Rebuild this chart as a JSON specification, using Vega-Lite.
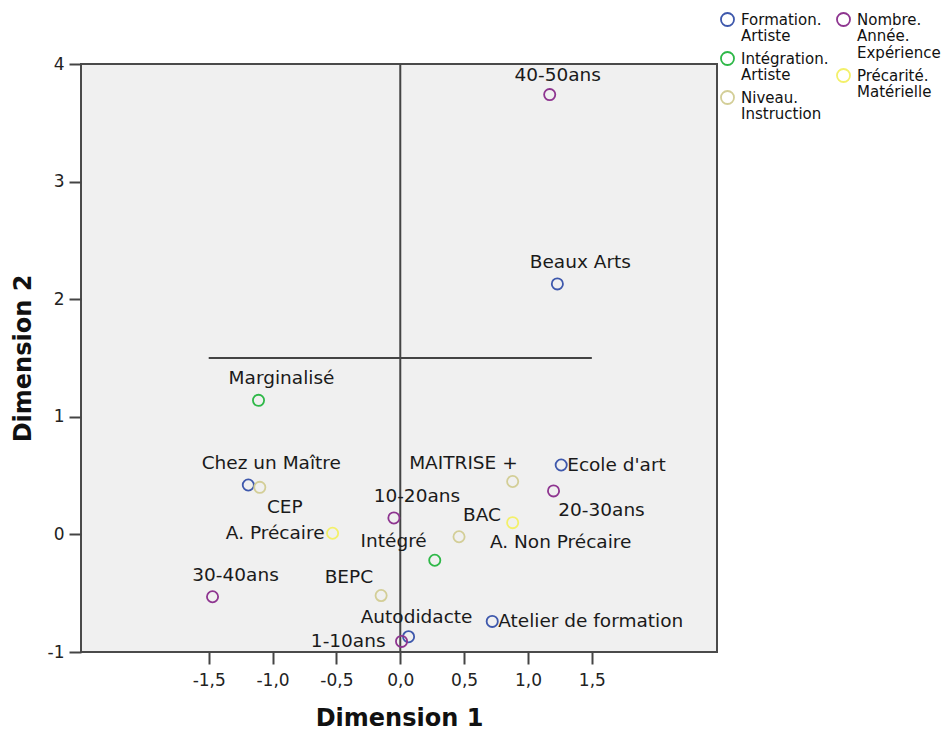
{
  "$schema": "https://vega.github.io/schema/vega-lite/v6.json",
  "autosize": {"type": "none"},
  "width": 636,
  "height": 588,
  "padding": {"left": 81, "top": 64, "right": 234, "bottom": 81},
  "background": "white",
  "config": {
    "view": {"fill": "#F0F0F0", "stroke": "#4a4a4a", "strokeWidth": 2},
    "style": {"guide-label": {"lineHeight": 16.5}},
    "axis": {
      "grid": false,
      "domain": false,
      "tickColor": "#444444",
      "tickWidth": 2,
      "labelFont": "DejaVu Sans",
      "labelFontSize": 17,
      "labelColor": "#222222",
      "titleFont": "DejaVu Sans",
      "titleFontSize": 24,
      "titleFontWeight": "bold",
      "titleColor": "#111111"
    },
    "legend": {
      "labelFont": "DejaVu Sans",
      "labelFontSize": 15,
      "labelColor": "#111111",
      "labelLimit": 0
    }
  },
  "datasets": {
    "pts": [
      {"label": "40-50ans", "group": "Nombre.Année.Expérience", "d1": 1.17, "d2": 3.74},
      {"label": "Beaux Arts", "group": "Formation.Artiste", "d1": 1.23, "d2": 2.13},
      {"label": "Marginalisé", "group": "Intégration.Artiste", "d1": -1.11, "d2": 1.14},
      {"label": "Chez un Maître", "group": "Formation.Artiste", "d1": -1.19, "d2": 0.42},
      {"label": "CEP", "group": "Niveau.Instruction", "d1": -1.10, "d2": 0.40},
      {"label": "Ecole d'art", "group": "Formation.Artiste", "d1": 1.26, "d2": 0.59},
      {"label": "MAITRISE +", "group": "Niveau.Instruction", "d1": 0.88, "d2": 0.45},
      {"label": "20-30ans", "group": "Nombre.Année.Expérience", "d1": 1.20, "d2": 0.37},
      {"label": "10-20ans", "group": "Nombre.Année.Expérience", "d1": -0.05, "d2": 0.14},
      {"label": "BAC", "group": "Niveau.Instruction", "d1": 0.46, "d2": -0.02},
      {"label": "A. Non Précaire", "group": "Précarité.Matérielle", "d1": 0.88, "d2": 0.10},
      {"label": "A. Précaire", "group": "Précarité.Matérielle", "d1": -0.53, "d2": 0.01},
      {"label": "Intégré", "group": "Intégration.Artiste", "d1": 0.27, "d2": -0.22},
      {"label": "30-40ans", "group": "Nombre.Année.Expérience", "d1": -1.47, "d2": -0.53},
      {"label": "BEPC", "group": "Niveau.Instruction", "d1": -0.15, "d2": -0.52},
      {"label": "Autodidacte", "group": "Formation.Artiste", "d1": 0.065, "d2": -0.87},
      {"label": "1-10ans", "group": "Nombre.Année.Expérience", "d1": 0.01, "d2": -0.91},
      {"label": "Atelier de formation", "group": "Formation.Artiste", "d1": 0.72, "d2": -0.74}
    ]
  },
  "layer": [
    {
      "data": {"values": [{"d1": 0, "d2": -1, "d2e": 4}]},
      "mark": {"type": "rule", "color": "#444444", "strokeWidth": 2},
      "encoding": {
        "x": {"field": "d1", "type": "quantitative", "title": "Dimension 1", "scale": {"domain": [-2.5, 2.48], "nice": false, "zero": false}},
        "y": {"field": "d2", "type": "quantitative", "title": "Dimension 2", "scale": {"domain": [-1, 4], "nice": false, "zero": false}},
        "y2": {"field": "d2e"}
      }
    },
    {
      "data": {"values": [{"d1": -1.5, "d1e": 1.5, "d2": 1.5}]},
      "mark": {"type": "rule", "color": "#444444", "strokeWidth": 2},
      "encoding": {
        "x": {"field": "d1", "type": "quantitative", "title": "Dimension 1", "scale": {"domain": [-2.5, 2.48], "nice": false, "zero": false}},
        "x2": {"field": "d1e"},
        "y": {"field": "d2", "type": "quantitative", "title": "Dimension 2", "scale": {"domain": [-1, 4], "nice": false, "zero": false}}
      }
    },
    {
      "data": {"name": "pts"},
      "transform": [{"filter": {"field": "group", "oneOf": ["Formation.Artiste", "Intégration.Artiste", "Niveau.Instruction"]}}],
      "mark": {"type": "point", "shape": "circle", "filled": false, "size": 125, "strokeWidth": 1.8, "opacity": 1},
      "encoding": {
        "x": {
          "field": "d1", "type": "quantitative", "title": "Dimension 1",
          "scale": {"domain": [-2.5, 2.48], "nice": false, "zero": false},
          "axis": {
            "values": [-1.5, -1, -0.5, 0, 0.5, 1, 1.5],
            "labelExpr": "replace((datum.value < 0 ? '-' : '') + format(abs(datum.value), '.1f'), '.', ',')",
            "tickSize": 12,
            "labelPadding": 8,
            "titlePadding": 18
          }
        },
        "y": {
          "field": "d2", "type": "quantitative", "title": "Dimension 2",
          "scale": {"domain": [-1, 4], "nice": false, "zero": false},
          "axis": {
            "values": [-1, 0, 1, 2, 3, 4],
            "labelExpr": "(datum.value < 0 ? '-' : '') + format(abs(datum.value), 'd')",
            "tickSize": 12,
            "labelPadding": 5,
            "titlePadding": 12
          }
        },
        "color": {
          "field": "group", "type": "nominal",
          "scale": {
            "domain": ["Formation.Artiste", "Intégration.Artiste", "Niveau.Instruction"],
            "range": ["#3E58AC", "#2EB848", "#D3CE97"]
          },
          "legend": {
            "title": null,
            "orient": "none",
            "legendX": 639,
            "legendY": -52,
            "rowPadding": 4,
            "symbolType": "circle",
            "symbolSize": 170,
            "symbolStrokeWidth": 1.8,
            "symbolFillColor": "transparent",
            "labelOffset": 6,
            "labelExpr": "split(replace(datum.label, regexp('[.]', 'g'), '.|'), '|')"
          }
        }
      }
    },
    {
      "data": {"name": "pts"},
      "transform": [{"filter": {"field": "group", "oneOf": ["Nombre.Année.Expérience", "Précarité.Matérielle"]}}],
      "mark": {"type": "point", "shape": "circle", "filled": false, "size": 125, "strokeWidth": 1.8, "opacity": 1},
      "encoding": {
        "x": {"field": "d1", "type": "quantitative", "title": "Dimension 1", "scale": {"domain": [-2.5, 2.48], "nice": false, "zero": false}},
        "y": {"field": "d2", "type": "quantitative", "title": "Dimension 2", "scale": {"domain": [-1, 4], "nice": false, "zero": false}},
        "stroke": {
          "field": "group", "type": "nominal",
          "scale": {
            "domain": ["Nombre.Année.Expérience", "Précarité.Matérielle"],
            "range": ["#8E3590", "#F3F06A"]
          },
          "legend": {
            "title": null,
            "orient": "none",
            "legendX": 755,
            "legendY": -52,
            "rowPadding": 4,
            "symbolType": "circle",
            "symbolSize": 170,
            "symbolStrokeWidth": 1.8,
            "symbolFillColor": "transparent",
            "labelOffset": 6,
            "labelExpr": "split(replace(datum.label, regexp('[.]', 'g'), '.|'), '|')"
          }
        }
      }
    },
    {
      "data": {"name": "pts"},
      "transform": [{"filter": {"field": "label", "oneOf": ["Chez un Maître", "10-20ans", "30-40ans", "Beaux Arts", "Marginalisé", "BAC"]}}],
      "mark": {"type": "text", "font": "DejaVu Sans", "fontSize": 18.5, "color": "#1a1a1a", "align": "center", "baseline": "middle", "dx": 23, "dy": -22},
      "encoding": {
        "x": {"field": "d1", "type": "quantitative", "title": "Dimension 1", "scale": {"domain": [-2.5, 2.48], "nice": false, "zero": false}},
        "y": {"field": "d2", "type": "quantitative", "title": "Dimension 2", "scale": {"domain": [-1, 4], "nice": false, "zero": false}},
        "text": {"field": "label"}
      }
    },
    {
      "data": {"name": "pts"},
      "transform": [{"filter": {"field": "label", "oneOf": ["40-50ans", "Autodidacte"]}}],
      "mark": {"type": "text", "font": "DejaVu Sans", "fontSize": 18.5, "color": "#1a1a1a", "align": "center", "baseline": "middle", "dx": 8, "dy": -20},
      "encoding": {
        "x": {"field": "d1", "type": "quantitative", "title": "Dimension 1", "scale": {"domain": [-2.5, 2.48], "nice": false, "zero": false}},
        "y": {"field": "d2", "type": "quantitative", "title": "Dimension 2", "scale": {"domain": [-1, 4], "nice": false, "zero": false}},
        "text": {"field": "label"}
      }
    },
    {
      "data": {"name": "pts"},
      "transform": [{"filter": {"field": "label", "oneOf": ["20-30ans", "A. Non Précaire"]}}],
      "mark": {"type": "text", "font": "DejaVu Sans", "fontSize": 18.5, "color": "#1a1a1a", "align": "center", "baseline": "middle", "dx": 48, "dy": 19},
      "encoding": {
        "x": {"field": "d1", "type": "quantitative", "title": "Dimension 1", "scale": {"domain": [-2.5, 2.48], "nice": false, "zero": false}},
        "y": {"field": "d2", "type": "quantitative", "title": "Dimension 2", "scale": {"domain": [-1, 4], "nice": false, "zero": false}},
        "text": {"field": "label"}
      }
    },
    {
      "data": {"name": "pts"},
      "transform": [{"filter": {"field": "label", "oneOf": ["CEP"]}}],
      "mark": {"type": "text", "font": "DejaVu Sans", "fontSize": 18.5, "color": "#1a1a1a", "align": "center", "baseline": "middle", "dx": 25, "dy": 20},
      "encoding": {
        "x": {"field": "d1", "type": "quantitative", "title": "Dimension 1", "scale": {"domain": [-2.5, 2.48], "nice": false, "zero": false}},
        "y": {"field": "d2", "type": "quantitative", "title": "Dimension 2", "scale": {"domain": [-1, 4], "nice": false, "zero": false}},
        "text": {"field": "label"}
      }
    },
    {
      "data": {"name": "pts"},
      "transform": [{"filter": {"field": "label", "oneOf": ["BEPC", "Intégré"]}}],
      "mark": {"type": "text", "font": "DejaVu Sans", "fontSize": 18.5, "color": "#1a1a1a", "align": "right", "baseline": "middle", "dx": -8, "dy": -19},
      "encoding": {
        "x": {"field": "d1", "type": "quantitative", "title": "Dimension 1", "scale": {"domain": [-2.5, 2.48], "nice": false, "zero": false}},
        "y": {"field": "d2", "type": "quantitative", "title": "Dimension 2", "scale": {"domain": [-1, 4], "nice": false, "zero": false}},
        "text": {"field": "label"}
      }
    },
    {
      "data": {"name": "pts"},
      "transform": [{"filter": {"field": "label", "oneOf": ["MAITRISE +"]}}],
      "mark": {"type": "text", "font": "DejaVu Sans", "fontSize": 18.5, "color": "#1a1a1a", "align": "right", "baseline": "middle", "dx": 5, "dy": -18},
      "encoding": {
        "x": {"field": "d1", "type": "quantitative", "title": "Dimension 1", "scale": {"domain": [-2.5, 2.48], "nice": false, "zero": false}},
        "y": {"field": "d2", "type": "quantitative", "title": "Dimension 2", "scale": {"domain": [-1, 4], "nice": false, "zero": false}},
        "text": {"field": "label"}
      }
    },
    {
      "data": {"name": "pts"},
      "transform": [{"filter": {"field": "label", "oneOf": ["Ecole d'art", "Atelier de formation"]}}],
      "mark": {"type": "text", "font": "DejaVu Sans", "fontSize": 18.5, "color": "#1a1a1a", "align": "left", "baseline": "middle", "dx": 6, "dy": 0},
      "encoding": {
        "x": {"field": "d1", "type": "quantitative", "title": "Dimension 1", "scale": {"domain": [-2.5, 2.48], "nice": false, "zero": false}},
        "y": {"field": "d2", "type": "quantitative", "title": "Dimension 2", "scale": {"domain": [-1, 4], "nice": false, "zero": false}},
        "text": {"field": "label"}
      }
    },
    {
      "data": {"name": "pts"},
      "transform": [{"filter": {"field": "label", "oneOf": ["A. Précaire"]}}],
      "mark": {"type": "text", "font": "DejaVu Sans", "fontSize": 18.5, "color": "#1a1a1a", "align": "right", "baseline": "middle", "dx": -8, "dy": 0},
      "encoding": {
        "x": {"field": "d1", "type": "quantitative", "title": "Dimension 1", "scale": {"domain": [-2.5, 2.48], "nice": false, "zero": false}},
        "y": {"field": "d2", "type": "quantitative", "title": "Dimension 2", "scale": {"domain": [-1, 4], "nice": false, "zero": false}},
        "text": {"field": "label"}
      }
    },
    {
      "data": {"name": "pts"},
      "transform": [{"filter": {"field": "label", "oneOf": ["1-10ans"]}}],
      "mark": {"type": "text", "font": "DejaVu Sans", "fontSize": 18.5, "color": "#1a1a1a", "align": "right", "baseline": "middle", "dx": -16, "dy": 0},
      "encoding": {
        "x": {"field": "d1", "type": "quantitative", "title": "Dimension 1", "scale": {"domain": [-2.5, 2.48], "nice": false, "zero": false}},
        "y": {"field": "d2", "type": "quantitative", "title": "Dimension 2", "scale": {"domain": [-1, 4], "nice": false, "zero": false}},
        "text": {"field": "label"}
      }
    }
  ]
}
